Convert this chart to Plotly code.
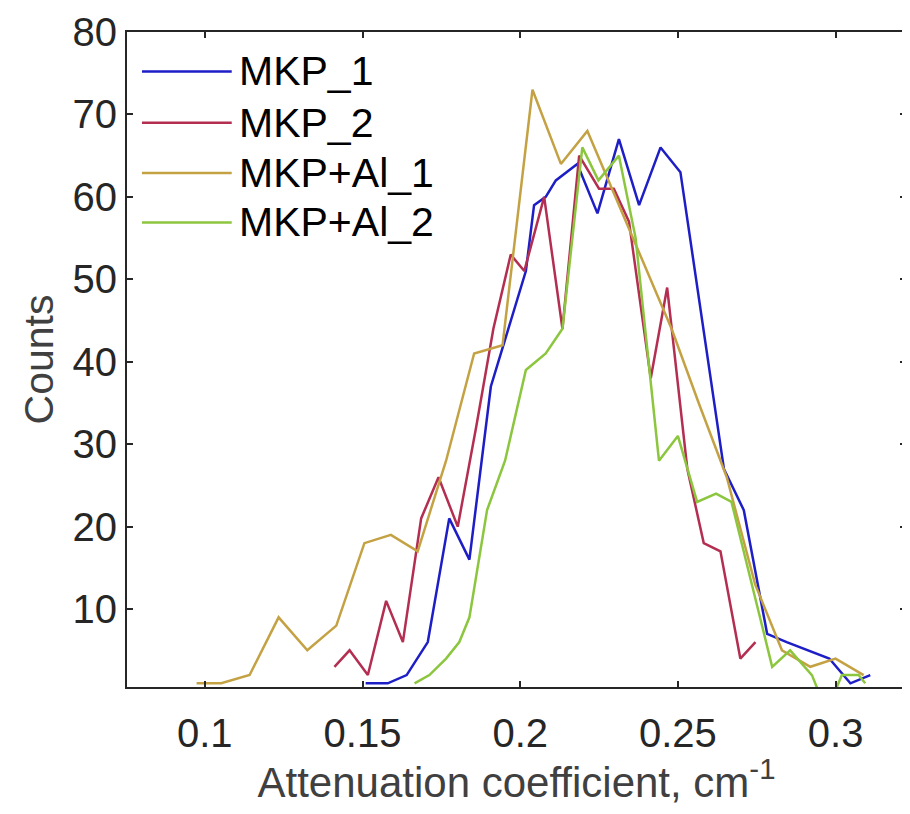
import plotly.graph_objects as go

# ---- data ----
mkp1_x = [0.151, 0.158, 0.164, 0.1707, 0.1775, 0.1839, 0.1907, 0.1955, 0.2018, 0.2044, 0.2081, 0.2113,
          0.2181, 0.2245, 0.2313, 0.2377, 0.2445, 0.2508, 0.2578, 0.2646, 0.2709, 0.2783, 0.2845, 0.291,
          0.298, 0.3047, 0.311]
mkp1_y = [1, 1, 2, 6, 21, 16, 37, 43, 51, 59, 60, 62, 64, 58, 67, 59, 66, 63, 45, 27, 22, 7, 6, 5, 4, 1, 2]

mkp2_x = [0.1411, 0.1459, 0.1517, 0.1575, 0.1628, 0.1686, 0.1741, 0.1802, 0.186, 0.1915, 0.197, 0.2013,
          0.2076, 0.2134, 0.2187, 0.225, 0.2297, 0.2345, 0.2414, 0.2466, 0.253, 0.2582, 0.2635, 0.2698, 0.2746]
mkp2_y = [3, 5, 2, 11, 6, 21, 26, 20, 32, 44, 53, 51, 60, 44, 65, 61, 61, 57, 38, 49, 27, 18, 17, 4, 6]

al1_x = [0.0974, 0.1052, 0.1142, 0.1234, 0.1325, 0.1417, 0.1506, 0.159, 0.1675, 0.1765, 0.1854, 0.1944,
         0.2039, 0.2129, 0.2213, 0.2302, 0.239, 0.248, 0.2566, 0.2655, 0.2745, 0.283, 0.292, 0.3, 0.3089]
al1_y = [1, 1, 2, 9, 5, 8, 18, 19, 17, 28, 41, 42, 73, 64, 68, 60, 52, 44, 35, 26, 13, 5, 3, 4, 2]

al2_x = [0.1665, 0.1712, 0.1765, 0.1807, 0.1839, 0.1895, 0.1952, 0.2018, 0.2081, 0.2134, 0.2197, 0.2248,
         0.2313, 0.2366, 0.244, 0.25, 0.2561, 0.2621, 0.267, 0.2735, 0.2799, 0.2856, 0.2925, 0.2946,
         0.2998, 0.302, 0.3073, 0.3094]
al2_y = [1, 2, 4, 6, 9, 22, 28, 39, 41, 44, 66, 62, 65, 55, 28, 31, 23, 24, 23, 13, 3, 5, 2, 0, 0, 2, 2, 1]

series_names = ["MKP_1", "MKP_2", "MKP+Al_1", "MKP+Al_2"]
series_colors = ["#1e1ec6", "#b32e50", "#c4a244", "#8cc63e"]

x_tick_vals = [0.1, 0.15, 0.2, 0.25, 0.3]
x_tick_text = ["0.1", "0.15", "0.2", "0.25", "0.3"]
y_tick_vals = [10, 20, 30, 40, 50, 60, 70, 80]
y_tick_text = ["10", "20", "30", "40", "50", "60", "70", "80"]

FONT = "Liberation Sans, Arial, Helvetica, sans-serif"

fig = go.Figure()
all_x = [mkp1_x, mkp2_x, al1_x, al2_x]
all_y = [mkp1_y, mkp2_y, al1_y, al2_y]
for xs, ys, name, col in zip(all_x, all_y, series_names, series_colors):
    fig.add_trace(go.Scatter(x=xs, y=ys, mode="lines", name=name,
                             line=dict(color=col, width=2.5), showlegend=False))

# page has an 8px body margin; figure sized so it ends at the window edge
OFF = 8
W, H = 902, 798
ml, mr, mt, mb = 127 - OFF, 2, 23 - OFF, 119
pw, ph = W - ml - mr, H - mt - mb

def px2paper_x(page_x):
    return (page_x - OFF - ml) / pw

def px2paper_y(page_y):
    return (H - mb - (page_y - OFF)) / ph

# manual legend (long line samples, no box), positions in page pixels
row_y = [63, 115, 166, 216]
for ry, name, col in zip(row_y, series_names, series_colors):
    fig.add_shape(type="line", xref="paper", yref="paper",
                  x0=px2paper_x(142), x1=px2paper_x(232),
                  y0=px2paper_y(ry), y1=px2paper_y(ry),
                  line=dict(color=col, width=2.5))
    fig.add_annotation(xref="paper", yref="paper", x=px2paper_x(237), y=px2paper_y(ry),
                       text=name, showarrow=False, xanchor="left", yanchor="middle",
                       font=dict(family=FONT, size=41, color="#000000"))

axis_common = dict(showline=True, linecolor="#262626", linewidth=2, mirror="ticks",
                   ticks="inside", ticklen=6, tickwidth=2, tickcolor="#262626",
                   showgrid=False, zeroline=False, ticklabeloverflow="allow",
                   tickfont=dict(family=FONT, size=40, color="#262626"))

fig.update_xaxes(range=[0.07533, 0.32233], tickvals=x_tick_vals, ticktext=x_tick_text,
                 title=dict(text="Attenuation coefficient, cm<sup>-1</sup>",
                            font=dict(family=FONT, size=42, color="#404040"), standoff=14),
                 ticklabelstandoff=10, **axis_common)
fig.update_yaxes(range=[0.55, 80], tickvals=y_tick_vals, ticktext=y_tick_text,
                 title=dict(text="Counts", font=dict(family=FONT, size=41, color="#404040"), standoff=6),
                 ticklabelstandoff=0, **axis_common)

fig.update_layout(width=W, height=H, margin=dict(l=ml, r=mr, t=mt, b=mb),
                  paper_bgcolor="white", plot_bgcolor="white", showlegend=False)

fig.write_html("out.html")
